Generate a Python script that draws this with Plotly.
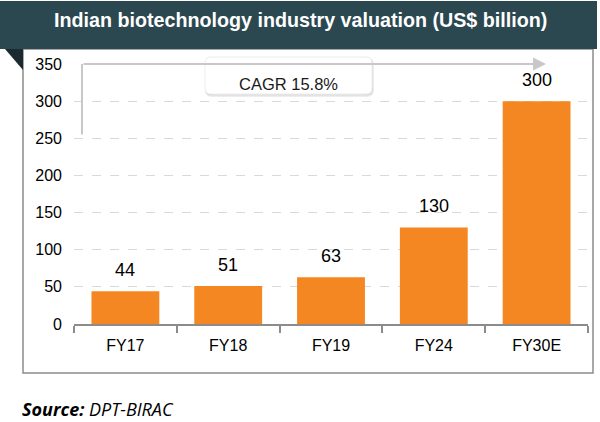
import plotly.graph_objects as go

categories = ["FY17", "FY18", "FY19", "FY24", "FY30E"]
values = [44, 51, 63, 130, 300]
y_ticks = [0, 50, 100, 150, 200, 250, 300, 350]
title_text = "Indian biotechnology industry valuation (US$ billion)"
cagr_text = "CAGR 15.8%"
source_bold = "Source:"
source_rest = "DPT-BIRAC"

W, H = 600, 422
L, R, T, B = 74, 588, 64, 324
PW, PH = R - L, B - T


def px(x):
    return (x - L) / PW


def py(y):
    return (B - y) / PH


def rrect(x0, y0, x1, y1, r):
    rx, ry = r / PW, r / PH
    a, b, c, d = px(x0), px(x1), py(y1), py(y0)
    return (f"M {a+rx},{c} L {b-rx},{c} Q {b},{c} {b},{c+ry} L {b},{d-ry} "
            f"Q {b},{d} {b-rx},{d} L {a+rx},{d} Q {a},{d} {a},{d-ry} "
            f"L {a},{c+ry} Q {a},{c} {a+rx},{c} Z")


font = "Liberation Sans, Arial, sans-serif"

fig = go.Figure()
fig.add_trace(go.Bar(x=categories, y=values, marker=dict(color="#f48722", line=dict(width=0)),
                     hoverinfo="skip"))

shapes = []
# outer box
shapes.append(dict(type="rect", xref="paper", yref="paper", x0=px(23), x1=px(593), y0=py(373), y1=py(49),
                   line=dict(color="#8c8c8c", width=1.5), fillcolor="rgba(0,0,0,0)", layer="below"))
# title bar
shapes.append(dict(type="rect", xref="paper", yref="paper", x0=px(0), x1=px(597), y0=py(49), y1=py(1),
                   line=dict(width=0), fillcolor="#2b4850"))
# dark triangle
shapes.append(dict(type="path", xref="paper", yref="paper",
                   path=f"M {px(5)},{py(49)} L {px(23)},{py(49)} L {px(23)},{py(70)} Z",
                   line=dict(width=0), fillcolor="#1b2a2e"))
# arrow vertical
shapes.append(dict(type="line", xref="paper", yref="y", x0=px(82), x1=px(82), y0=255, y1=350,
                   line=dict(color="#c8c8c8", width=2)))
# CAGR box soft shadow + box
shapes.append(dict(type="path", xref="paper", yref="paper", path=rrect(205, 58, 374, 97, 7),
                   line=dict(width=0), fillcolor="rgba(0,0,0,0.07)"))
shapes.append(dict(type="path", xref="paper", yref="paper", path=rrect(205, 57, 373, 95.5, 6),
                   line=dict(width=0), fillcolor="rgba(0,0,0,0.08)"))
shapes.append(dict(type="path", xref="paper", yref="paper", path=rrect(205, 57, 372, 94, 6),
                   line=dict(color="#ededed", width=1), fillcolor="#ffffff"))

annotations = []
# horizontal arrow
annotations.append(dict(xref="paper", yref="y", x=px(546), y=350, ax=-(546 - 82), ay=0,
                        showarrow=True, arrowhead=2, arrowsize=1.3,
                        arrowwidth=2, arrowcolor="#c8c8c8", text="", standoff=0))
annotations.append(dict(xref="paper", yref="paper", x=px(288.5), y=py(73), text=cagr_text,
                        showarrow=False, font=dict(family=font, size=16.5, color="#1a1a1a")))
for c, v in zip(categories, values):
    annotations.append(dict(x=c, y=v, yref="y", text=str(v), showarrow=False, yshift=21,
                            font=dict(family=font, size=18, color="#000000")))
annotations.append(dict(xref="paper", yref="paper", x=px(300.5), y=py(20), text="<b>" + title_text + "</b>",
                        showarrow=False, font=dict(family=font, size=19.7, color="#ffffff"),
                        xanchor="center", yanchor="middle"))
annotations.append(dict(xref="paper", yref="paper", x=px(20), y=py(409), xanchor="left", yanchor="middle",
                        text=f"<b><i>{source_bold}</i></b> <i>{source_rest}</i>", showarrow=False,
                        font=dict(family="Open Sans, sans-serif", size=18, color="#000000")))

fig.update_layout(
    width=W, height=H,
    margin=dict(l=L, r=W - R, t=T, b=H - B, pad=0),
    paper_bgcolor="#ffffff", plot_bgcolor="#ffffff",
    showlegend=False, bargap=0.34,
    shapes=shapes, annotations=annotations,
    xaxis=dict(type="category", showgrid=False, showline=True, linecolor="#8c8c8c", linewidth=1.5,
               ticks="outside", tickson="boundaries", ticklen=7, tickcolor="#8c8c8c", tickwidth=1.5,
               ticklabelstandoff=6,
               tickfont=dict(family=font, size=16, color="#000000"), fixedrange=True),
    yaxis=dict(range=[0, 350], tickvals=y_ticks, showgrid=True, gridcolor="#d9d9d9", griddash="dash",
               gridwidth=1, zeroline=False, showline=False, ticks="", ticklabelstandoff=11,
               tickfont=dict(family=font, size=16, color="#000000"), fixedrange=True),
)

fig.write_html("out.html", config={"displayModeBar": False},
               post_script="document.body.style.margin='0';document.body.style.overflow='hidden';")
